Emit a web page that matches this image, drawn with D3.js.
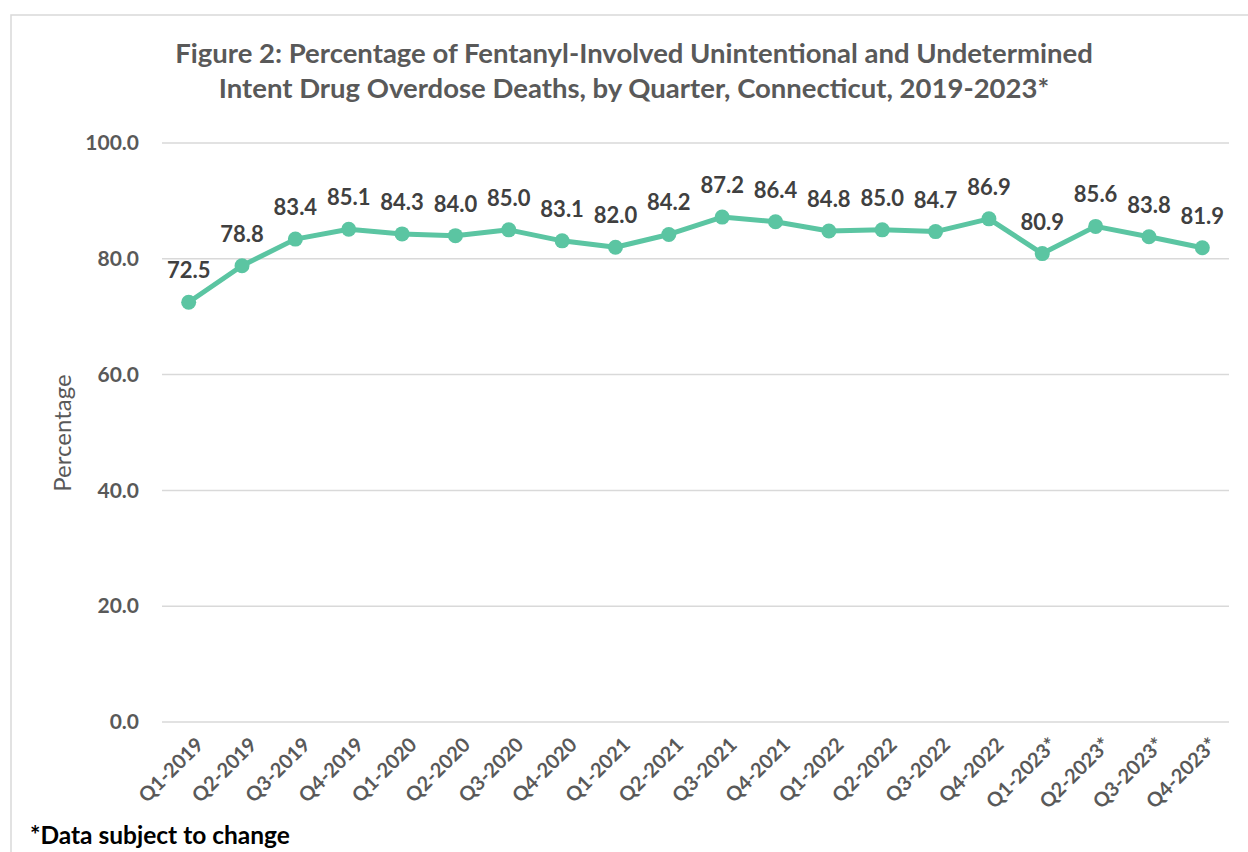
<!DOCTYPE html>
<html><head><meta charset="utf-8">
<script src="https://cdn.jsdelivr.net/npm/d3@7"></script>
<style>body{margin:0;background:#fff}svg{display:block}</style>
</head><body>
<script>
const quarters = ["Q1-2019","Q2-2019","Q3-2019","Q4-2019","Q1-2020","Q2-2020","Q3-2020","Q4-2020","Q1-2021","Q2-2021","Q3-2021","Q4-2021","Q1-2022","Q2-2022","Q3-2022","Q4-2022","Q1-2023*","Q2-2023*","Q3-2023*","Q4-2023*"];
const percentages = [72.5,78.8,83.4,85.1,84.3,84.0,85.0,83.1,82.0,84.2,87.2,86.4,84.8,85.0,84.7,86.9,80.9,85.6,83.8,81.9];
const yTicks = [0,20,40,60,80,100];
const titleLines = ["Figure 2: Percentage of Fentanyl-Involved Unintentional and Undetermined","Intent Drug Overdose Deaths, by Quarter, Connecticut, 2019-2023*"];
const footnote = "*Data subject to change";

const W = 1248, H = 852;
const font = "Lato, 'Open Sans', sans-serif";
const svg = d3.select("body").append("svg").attr("width", W).attr("height", H);

svg.append("rect").attr("x", 11).attr("y", 15).attr("width", W + 20).attr("height", H + 20)
  .attr("fill", "#fff").attr("stroke", "#d9d9d9").attr("stroke-width", 1.5);

const x = d3.scaleBand().domain(quarters).range([162, 1229]);
const y = d3.scaleLinear().domain([0, 100]).range([722, 143]);

// title
svg.append("g").selectAll("text").data(titleLines).join("text")
  .attr("x", 634).attr("y", (d, i) => 63 + i * 35)
  .attr("text-anchor", "middle").attr("font-family", font).attr("font-weight", "bold")
  .attr("font-size", 27.5).attr("fill", "#595959").text(d => d);

// grid
svg.append("g").selectAll("line").data(yTicks).join("line")
  .attr("x1", 162).attr("x2", 1229).attr("y1", d => y(d)).attr("y2", d => y(d))
  .attr("stroke", "#d9d9d9").attr("stroke-width", 1.5);

// y axis
const yAxis = svg.append("g").attr("transform", "translate(139,0)")
  .call(d3.axisLeft(y).tickValues(yTicks).tickFormat(d3.format(".1f")).tickSize(0).tickPadding(0));
yAxis.select(".domain").remove();
yAxis.selectAll("text").attr("font-family", font).attr("font-weight", "bold")
  .attr("font-size", 21).attr("fill", "#595959");

svg.append("text").attr("transform", "translate(71,433) rotate(-90)")
  .attr("text-anchor", "middle").attr("font-family", font).attr("font-size", 24)
  .attr("fill", "#595959").text("Percentage");

// x axis
const xAxis = svg.append("g").attr("transform", "translate(0,722)")
  .call(d3.axisBottom(x).tickSize(0).tickPadding(0));
xAxis.select(".domain").remove();
xAxis.selectAll("text")
  .attr("font-family", font).attr("font-weight", "bold").attr("font-size", 20).attr("fill", "#595959")
  .attr("text-anchor", "end").attr("dy", null).attr("y", 0)
  .attr("transform", "translate(16,24) rotate(-45)");

const cx = d => x(d) + x.bandwidth() / 2;
const pts = quarters.map((q, i) => [cx(q), y(percentages[i])]);

svg.append("path").datum(pts).attr("d", d3.line())
  .attr("fill", "none").attr("stroke", "#5bc5a2").attr("stroke-width", 5).attr("stroke-linejoin", "round");

svg.append("g").selectAll("circle").data(pts).join("circle")
  .attr("cx", d => d[0]).attr("cy", d => d[1]).attr("r", 7.5).attr("fill", "#5bc5a2");

svg.append("g").selectAll("text").data(quarters).join("text")
  .attr("x", (q) => cx(q)).attr("y", (q, i) => y(percentages[i]) - 24)
  .attr("text-anchor", "middle").attr("font-family", font).attr("font-weight", "bold")
  .attr("font-size", 22).attr("fill", "#404040")
  .text((q, i) => d3.format(".1f")(percentages[i]));

svg.append("text").attr("x", 30).attr("y", 844).attr("font-family", font).attr("font-weight", "bold")
  .attr("font-size", 24.5).attr("fill", "#000").text(footnote);
</script>
</body></html>
